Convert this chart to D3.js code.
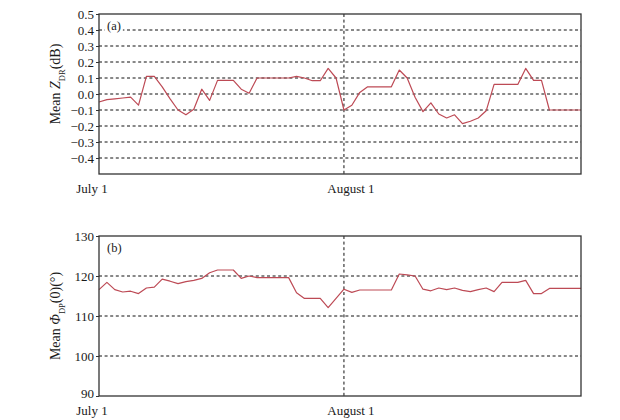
<!DOCTYPE html>
<html>
<head>
<meta charset="utf-8">
<script src="https://cdn.jsdelivr.net/npm/d3@7"></script>
<style>
  body { margin: 0; background: #fff; }
  text { font-family: "Liberation Serif", "DejaVu Serif", serif; fill: #1a1a1a; }
</style>
</head>
<body>
<div id="chart"></div>
<script>
// day index 0 = July 1, 61 = August 31
const days = d3.range(62);

// mean Z_DR (dB), panel (a)
const zdr = [-0.05, -0.035, -0.03, -0.025, -0.02, -0.07, 0.11, 0.11, 0.045, -0.03,
  -0.1, -0.13, -0.095, 0.03, -0.04, 0.085, 0.085, 0.085, 0.03, 0.005,
  0.1, 0.1, 0.1, 0.1, 0.1, 0.11, 0.1, 0.083, 0.083, 0.16,
  0.1, -0.1, -0.07, 0.01, 0.045, 0.045, 0.045, 0.045, 0.15, 0.1,
  -0.02, -0.11, -0.055, -0.125, -0.15, -0.13, -0.185, -0.17, -0.15, -0.105,
  0.06, 0.06, 0.06, 0.06, 0.16, 0.085, 0.085, -0.1, -0.1, -0.1,
  -0.1, -0.1];

// mean PHI_DP(0) (degrees), panel (b)
const phidp = [116.6, 118.4, 116.6, 116.0, 116.2, 115.6, 117.0, 117.2, 119.2, 118.7,
  118.1, 118.6, 118.9, 119.4, 120.8, 121.5, 121.5, 121.5, 119.4, 120.0,
  119.6, 119.6, 119.6, 119.6, 119.6, 115.8, 114.4, 114.4, 114.4, 112.1,
  114.4, 116.7, 115.9, 116.5, 116.5, 116.5, 116.5, 116.5, 120.5, 120.3,
  120.0, 116.7, 116.3, 117.0, 116.6, 117.0, 116.4, 116.1, 116.6, 117.0,
  116.1, 118.4, 118.4, 118.4, 118.9, 115.6, 115.6, 116.9, 116.9, 116.9,
  116.9, 116.9];

const xTickDays = [0, 31];
const xTickLabels = ["July 1", "August 1"];
const yTicksA = [-0.4, -0.3, -0.2, -0.1, 0, 0.1, 0.2, 0.3, 0.4, 0.5];
const yTicksB = [90, 100, 110, 120, 130];

const W = 620, H = 420;
const svg = d3.select("#chart").append("svg")
  .attr("width", W).attr("height", H);

const x = d3.scaleLinear().domain([0, 61]).range([99, 581]);

function drawPanel(opt) {
  const y = d3.scaleLinear().domain(opt.domain).range([opt.bottom, opt.top]);
  const g = svg.append("g");

  // dashed grid lines at inner ticks
  g.selectAll(".grid")
    .data(opt.ticks.filter(t => t > opt.domain[0] && t < opt.domain[1]))
    .enter().append("line")
    .attr("x1", x.range()[0]).attr("x2", x.range()[1])
    .attr("y1", d => y(d)).attr("y2", d => y(d))
    .style("stroke", "#111").style("stroke-width", 1)
    .style("stroke-dasharray", "3,2.6");

  // vertical dashed line at August 1
  g.append("line")
    .attr("x1", x(31)).attr("x2", x(31))
    .attr("y1", opt.top).attr("y2", opt.bottom)
    .style("stroke", "#111").style("stroke-width", 1)
    .style("stroke-dasharray", "3,2.6");

  // panel letter with white backing
  const lab = g.append("text")
    .attr("x", 107).attr("y", opt.top + opt.letterDy)
    .style("font-size", "12.5px")
    .text(opt.letter);
  const bb = lab.node().getBBox();
  g.insert("rect", "text")
    .attr("x", bb.x - 2).attr("y", bb.y)
    .attr("width", bb.width + 4).attr("height", bb.height)
    .style("fill", "#fff");

  // series line
  const line = d3.line().x((d, i) => x(days[i])).y(d => y(d));
  g.append("path")
    .datum(opt.values)
    .attr("d", line)
    .style("fill", "none")
    .style("stroke", "#bd4a55")
    .style("stroke-width", 1.2)
    .style("stroke-linejoin", "round");

  // frame
  g.append("rect")
    .attr("x", x.range()[0]).attr("y", opt.top)
    .attr("width", x.range()[1] - x.range()[0])
    .attr("height", opt.bottom - opt.top)
    .style("fill", "none").style("stroke", "#333").style("stroke-width", 1.3);

  // y axis
  const ax = g.append("g")
    .attr("transform", `translate(${x.range()[0]},0)`)
    .call(d3.axisLeft(y).tickValues(opt.ticks).tickSize(3).tickPadding(2)
      .tickFormat(opt.format));
  ax.select(".domain").remove();
  ax.selectAll("line").style("stroke", "#333");
  ax.selectAll("text").style("font-size", "13px").style("font-family", "Liberation Serif").style("fill", "#1a1a1a");
  // lift the lowest label a touch so it clears the date label below
  if (opt.liftLowest) ax.selectAll("text").filter(d => d === opt.domain[0]).attr("dy", "0.15em");

  // x tick labels
  g.selectAll(".xl")
    .data(xTickDays)
    .enter().append("text")
    .attr("x", (d, i) => x(d) + (i === 0 ? -7 : 7))
    .attr("y", opt.xLabelY)
    .attr("text-anchor", "middle")
    .style("font-size", "13px")
    .text((d, i) => xTickLabels[i]);

  // y axis title
  const t = g.append("text")
    .attr("transform", `translate(${opt.titleX},${(opt.top + opt.bottom) / 2 + opt.titleDy}) rotate(-90)`)
    .attr("text-anchor", "middle")
    .style("font-size", "14px");
  t.append("tspan").text("Mean ");
  t.append("tspan").style("font-style", "italic").text(opt.sym);
  t.append("tspan").attr("baseline-shift", "sub").style("font-size", "8.5px").text(opt.sub);
  t.append("tspan").text(opt.unit);
}

const fmtA = d => (d < 0 ? "\u2212" : "") + Math.abs(d).toFixed(1);

drawPanel({
  values: zdr, domain: [-0.5, 0.5], ticks: yTicksA, format: fmtA,
  top: 14, bottom: 174, letter: "(a)", letterDy: 16,
  xLabelY: 193, titleX: 60, titleDy: -10,
  sym: "Z", sub: "DR", unit: "(dB)"
});

drawPanel({
  values: phidp, domain: [90, 130], ticks: yTicksB, format: d3.format("d"),
  top: 236, bottom: 396, letter: "(b)", letterDy: 16,
  xLabelY: 415, titleX: 60, titleDy: 0, liftLowest: true,
  sym: "\u03A6", sub: "DP", unit: "(0)(\u00B0)"
});
</script>
</body>
</html>
